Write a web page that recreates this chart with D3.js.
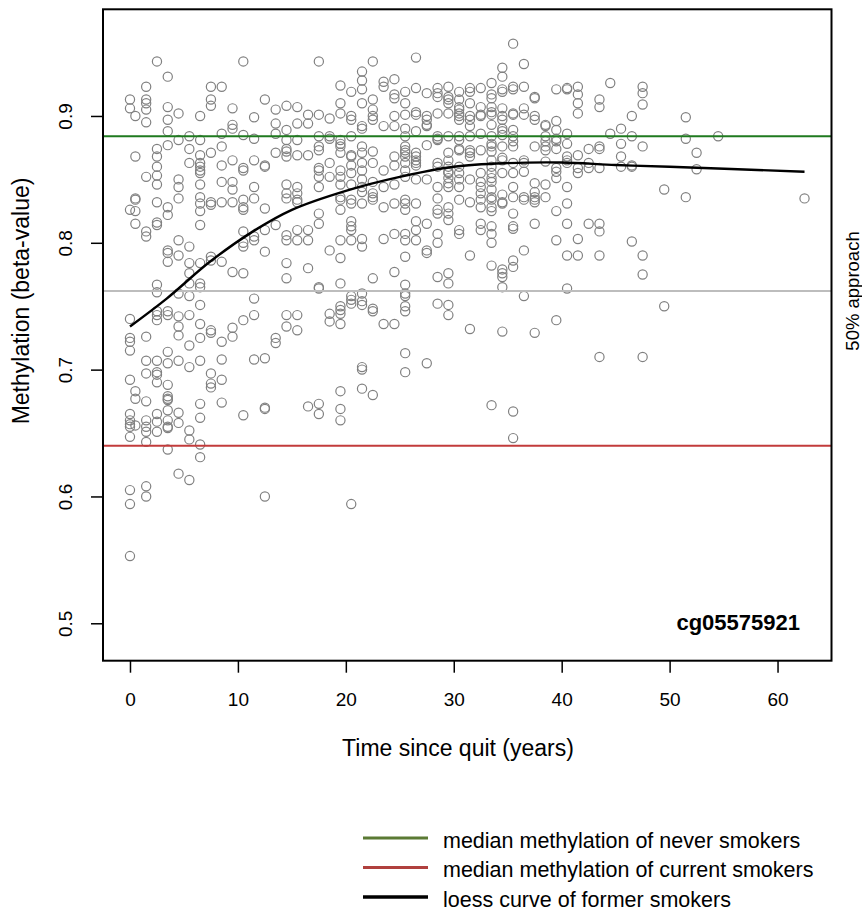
<!DOCTYPE html>
<html>
<head>
<meta charset="utf-8">
<script src="https://cdn.jsdelivr.net/npm/d3@7"></script>
<style>
  body { margin: 0; background: #fff; }
  svg { display: block; font-family: "Liberation Sans", Arial, sans-serif; }
</style>
</head>
<body>
<div id="chart"></div>
<script>
// years since quitting, one entry per column of points
var quitYears = [0, 0.5, 1.5, 2.5, 3.5, 4.5, 5.5, 6.5, 7.5, 8.5, 9.5, 10.5, 11.5, 12.5, 13.5, 14.5,
    15.5, 16.5, 17.5, 18.5, 19.5, 20.5, 21.5, 22.5, 23.5, 24.5, 25.5, 26.5, 27.5, 28.5, 29.5,
    30.5, 31.5, 32.5, 33.5, 34.5, 35.5, 36.5, 37.5, 38.5, 39.5, 40.5, 41.5, 42.5, 43.5, 44.5,
    45.5, 46.5, 47.5, 49.5, 51.5, 52.5, 54.5, 62.5];

// beta-values of former smokers at each of those years
var methylation = [
    [0.913, 0.906, 0.826, 0.740, 0.725, 0.722, 0.715, 0.692, 0.665, 0.660, 0.657, 0.655, 0.647, 0.605, 0.594, 0.553],
    [0.900, 0.868, 0.835, 0.834, 0.825, 0.815, 0.683, 0.677, 0.656],
    [0.923, 0.913, 0.910, 0.905, 0.895, 0.852, 0.809, 0.805, 0.726, 0.707, 0.697, 0.675, 0.660, 0.655, 0.651, 0.643, 0.608, 0.600],
    [0.943, 0.874, 0.868, 0.860, 0.853, 0.846, 0.832, 0.816, 0.814, 0.767, 0.761, 0.746, 0.743, 0.739, 0.707, 0.698, 0.696, 0.690, 0.665, 0.659, 0.651],
    [0.931, 0.907, 0.897, 0.888, 0.877, 0.828, 0.822, 0.794, 0.792, 0.785, 0.746, 0.743, 0.714, 0.705, 0.688, 0.679, 0.677, 0.676, 0.668, 0.660, 0.655, 0.654, 0.637],
    [0.902, 0.881, 0.850, 0.844, 0.835, 0.802, 0.790, 0.760, 0.742, 0.734, 0.727, 0.707, 0.666, 0.658, 0.618],
    [0.884, 0.874, 0.863, 0.797, 0.784, 0.776, 0.768, 0.758, 0.743, 0.719, 0.702, 0.652, 0.645, 0.613],
    [0.900, 0.881, 0.869, 0.863, 0.860, 0.857, 0.855, 0.846, 0.836, 0.831, 0.825, 0.814, 0.784, 0.768, 0.765, 0.751, 0.736, 0.725, 0.707, 0.673, 0.662, 0.641, 0.631],
    [0.923, 0.913, 0.908, 0.871, 0.832, 0.830, 0.789, 0.786, 0.731, 0.729, 0.697, 0.689, 0.686],
    [0.923, 0.886, 0.876, 0.861, 0.848, 0.832, 0.785, 0.722, 0.708, 0.692, 0.674],
    [0.906, 0.893, 0.890, 0.865, 0.848, 0.842, 0.832, 0.777, 0.733, 0.726],
    [0.943, 0.885, 0.859, 0.857, 0.834, 0.828, 0.826, 0.809, 0.800, 0.797, 0.776, 0.739, 0.664],
    [0.899, 0.882, 0.865, 0.844, 0.835, 0.805, 0.802, 0.756, 0.743, 0.708],
    [0.913, 0.861, 0.860, 0.827, 0.810, 0.793, 0.709, 0.670, 0.669, 0.600],
    [0.905, 0.894, 0.886, 0.871, 0.814, 0.725, 0.721],
    [0.908, 0.889, 0.881, 0.874, 0.872, 0.868, 0.846, 0.839, 0.835, 0.806, 0.802, 0.784, 0.772, 0.743, 0.734],
    [0.907, 0.894, 0.881, 0.869, 0.844, 0.839, 0.834, 0.832, 0.810, 0.802, 0.743, 0.731],
    [0.901, 0.894, 0.869, 0.810, 0.802, 0.780, 0.671],
    [0.943, 0.901, 0.884, 0.876, 0.873, 0.859, 0.857, 0.852, 0.844, 0.823, 0.815, 0.765, 0.764, 0.673, 0.665],
    [0.898, 0.884, 0.882, 0.863, 0.852, 0.794, 0.744, 0.738],
    [0.924, 0.910, 0.902, 0.881, 0.878, 0.876, 0.871, 0.857, 0.852, 0.846, 0.836, 0.834, 0.826, 0.802, 0.788, 0.768, 0.750, 0.747, 0.744, 0.736, 0.683, 0.669, 0.660],
    [0.919, 0.900, 0.897, 0.884, 0.869, 0.868, 0.861, 0.855, 0.846, 0.834, 0.831, 0.817, 0.813, 0.810, 0.802, 0.758, 0.755, 0.752, 0.594],
    [0.935, 0.928, 0.921, 0.910, 0.892, 0.890, 0.876, 0.871, 0.863, 0.857, 0.850, 0.844, 0.840, 0.831, 0.803, 0.797, 0.760, 0.754, 0.751, 0.702, 0.700, 0.685],
    [0.943, 0.913, 0.905, 0.900, 0.897, 0.872, 0.863, 0.848, 0.839, 0.836, 0.834, 0.772, 0.748, 0.746, 0.680],
    [0.927, 0.923, 0.892, 0.857, 0.844, 0.828, 0.803, 0.736],
    [0.929, 0.917, 0.914, 0.900, 0.892, 0.868, 0.861, 0.846, 0.831, 0.807, 0.777, 0.736],
    [0.919, 0.910, 0.901, 0.890, 0.884, 0.876, 0.873, 0.871, 0.868, 0.863, 0.857, 0.852, 0.834, 0.831, 0.826, 0.807, 0.802, 0.789, 0.767, 0.760, 0.758, 0.750, 0.746, 0.713, 0.698],
    [0.946, 0.922, 0.903, 0.901, 0.888, 0.871, 0.868, 0.865, 0.863, 0.861, 0.850, 0.831, 0.817, 0.810, 0.802],
    [0.918, 0.900, 0.897, 0.893, 0.892, 0.877, 0.850, 0.815, 0.794, 0.792, 0.705],
    [0.922, 0.918, 0.915, 0.902, 0.884, 0.882, 0.881, 0.863, 0.860, 0.844, 0.835, 0.826, 0.823, 0.807, 0.800, 0.773, 0.752],
    [0.923, 0.915, 0.913, 0.910, 0.902, 0.884, 0.871, 0.865, 0.860, 0.856, 0.855, 0.851, 0.847, 0.844, 0.828, 0.823, 0.818, 0.776, 0.768, 0.751, 0.743],
    [0.919, 0.913, 0.907, 0.905, 0.902, 0.900, 0.897, 0.884, 0.881, 0.874, 0.873, 0.860, 0.855, 0.850, 0.844, 0.834, 0.810, 0.807],
    [0.922, 0.919, 0.910, 0.900, 0.897, 0.892, 0.884, 0.873, 0.871, 0.868, 0.850, 0.832, 0.790, 0.732],
    [0.922, 0.907, 0.901, 0.900, 0.886, 0.873, 0.855, 0.848, 0.844, 0.839, 0.834, 0.828, 0.815, 0.810],
    [0.926, 0.917, 0.914, 0.907, 0.903, 0.901, 0.893, 0.884, 0.878, 0.876, 0.872, 0.865, 0.860, 0.855, 0.851, 0.848, 0.842, 0.836, 0.834, 0.828, 0.825, 0.813, 0.807, 0.800, 0.782, 0.672],
    [0.938, 0.931, 0.921, 0.919, 0.906, 0.900, 0.897, 0.890, 0.888, 0.885, 0.876, 0.867, 0.865, 0.855, 0.838, 0.832, 0.831, 0.779, 0.776, 0.773, 0.765, 0.730],
    [0.957, 0.923, 0.921, 0.902, 0.901, 0.889, 0.884, 0.880, 0.876, 0.863, 0.855, 0.844, 0.836, 0.823, 0.813, 0.811, 0.786, 0.781, 0.667, 0.646],
    [0.941, 0.923, 0.906, 0.901, 0.865, 0.863, 0.856, 0.836, 0.834, 0.794, 0.758],
    [0.915, 0.914, 0.900, 0.897, 0.876, 0.847, 0.840, 0.836, 0.834, 0.832, 0.815, 0.729],
    [0.893, 0.892, 0.884, 0.880, 0.876, 0.873, 0.864, 0.846, 0.836],
    [0.921, 0.896, 0.889, 0.882, 0.880, 0.874, 0.859, 0.856, 0.851, 0.825, 0.802, 0.739],
    [0.922, 0.921, 0.886, 0.878, 0.868, 0.865, 0.863, 0.844, 0.831, 0.815, 0.790, 0.764],
    [0.923, 0.917, 0.910, 0.902, 0.869, 0.859, 0.855, 0.803, 0.790],
    [0.874, 0.863, 0.859, 0.815],
    [0.913, 0.907, 0.876, 0.874, 0.859, 0.815, 0.809, 0.790, 0.710],
    [0.926, 0.886],
    [0.890, 0.878, 0.868, 0.860],
    [0.900, 0.884, 0.861, 0.860, 0.801],
    [0.923, 0.918, 0.909, 0.876, 0.790, 0.775, 0.710],
    [0.842, 0.750],
    [0.899, 0.882, 0.836],
    [0.871, 0.858],
    [0.884],
    [0.835]
];

// loess fit
var loessYears = [0, 3.4, 7.4, 11.4, 15, 20, 25, 30, 35, 40, 45, 50, 62.5];
var loessValues = [0.734, 0.756, 0.785, 0.809, 0.826, 0.841, 0.852, 0.860, 0.8628, 0.8633, 0.8613, 0.860, 0.856];

var neverMedian = 0.884;
var currentMedian = 0.640;
var halfApproach = (neverMedian + currentMedian) / 2;

var xTicks = [0, 10, 20, 30, 40, 50, 60];
var yTicks = [0.5, 0.6, 0.7, 0.8, 0.9];

var legendLabels = ["median methylation of never smokers", "median methylation of current smokers", "loess curve of former smokers"];
var legendColors = ["#5b7a34", "#b0403e", "#000000"];

var width = 862, height = 910;
var plot = { left: 103, right: 831.5, top: 9.3, bottom: 660.7 };

var x = d3.scaleLinear().domain([-2.5, 65]).range([plot.left, plot.right]);
var y = d3.scaleLinear().domain([0.4705, 0.9841]).range([plot.bottom, plot.top]);

var svg = d3.select("#chart").append("svg")
    .attr("width", width)
    .attr("height", height);

svg.append("rect")
    .attr("width", width)
    .attr("height", height)
    .attr("fill", "#fff");

var points = [];
quitYears.forEach(function(yr, i) {
    methylation[i].forEach(function(v) {
        points.push({ year: yr, value: v });
    });
});

svg.selectAll(".dot")
    .data(points)
    .enter()
    .append("circle")
    .attr("class", "dot")
    .attr("cx", function(d) { return x(d.year); })
    .attr("cy", function(d) { return y(d.value); })
    .attr("r", 4.6)
    .attr("fill", "none")
    .attr("stroke", "#808080")
    .attr("stroke-width", 1.2);

// reference lines
var refLines = [
    { value: neverMedian, color: "#1f7a1f" },
    { value: currentMedian, color: "#c23b3b" },
    { value: halfApproach, color: "#bdbdbd" }
];
svg.selectAll(".ref")
    .data(refLines)
    .enter()
    .append("line")
    .attr("class", "ref")
    .attr("x1", plot.left)
    .attr("x2", plot.right)
    .attr("y1", function(d) { return y(d.value); })
    .attr("y2", function(d) { return y(d.value); })
    .attr("stroke", function(d) { return d.color; })
    .attr("stroke-width", 2);

var loess = loessYears.map(function(yr, i) { return [yr, loessValues[i]]; });
svg.append("path")
    .datum(loess)
    .attr("fill", "none")
    .attr("stroke", "#000")
    .attr("stroke-width", 2.4)
    .attr("d", d3.line()
        .curve(d3.curveCatmullRom)
        .x(function(d) { return x(d[0]); })
        .y(function(d) { return y(d[1]); })
    );

// frame
svg.append("rect")
    .attr("x", plot.left)
    .attr("y", plot.top)
    .attr("width", plot.right - plot.left)
    .attr("height", plot.bottom - plot.top)
    .attr("fill", "none")
    .attr("stroke", "#000")
    .attr("stroke-width", 2);

// axes
var xAxis = svg.append("g")
    .attr("transform", "translate(0," + plot.bottom + ")")
    .call(d3.axisBottom(x).tickValues(xTicks).tickSize(12).tickPadding(20).tickSizeOuter(0));
xAxis.select(".domain").remove();
xAxis.selectAll("line").attr("stroke", "#000").attr("stroke-width", 1.5);
xAxis.selectAll("text")
    .attr("fill", "#000")
    .style("font-size", "19px")
    .style("font-family", "Liberation Sans, Arial, sans-serif");

var yAxis = svg.append("g")
    .attr("transform", "translate(" + plot.left + ",0)")
    .call(d3.axisLeft(y).tickValues(yTicks).tickSize(12).tickFormat(d3.format(".1f")).tickSizeOuter(0));
yAxis.select(".domain").remove();
yAxis.selectAll("line").attr("stroke", "#000").attr("stroke-width", 1.5);
yAxis.selectAll("text")
    .attr("fill", "#000")
    .attr("x", null)
    .attr("dy", null)
    .attr("text-anchor", "middle")
    .attr("transform", "translate(-31,0) rotate(-90)")
    .style("font-size", "19px")
    .style("font-family", "Liberation Sans, Arial, sans-serif");

// titles
svg.append("text")
    .attr("transform", "translate(28.5,301) rotate(-90)")
    .attr("text-anchor", "middle")
    .style("font-size", "23px")
    .text("Methylation (beta-value)");

svg.append("text")
    .attr("x", 458)
    .attr("y", 756)
    .attr("text-anchor", "middle")
    .style("font-size", "23px")
    .text("Time since quit (years)");

svg.append("text")
    .attr("x", 800)
    .attr("y", 630)
    .attr("text-anchor", "end")
    .style("font-size", "22px")
    .style("font-weight", "bold")
    .text("cg05575921");

svg.append("text")
    .attr("transform", "translate(859," + y(halfApproach) + ") rotate(-90)")
    .attr("text-anchor", "middle")
    .style("font-size", "18.5px")
    .text("50% approach");

// legend
var legend = svg.selectAll(".legend")
    .data(legendLabels)
    .enter()
    .append("g")
    .attr("class", "legend")
    .attr("transform", function(d, i) { return "translate(363," + (838 + i * 29.5) + ")"; });

legend.append("line")
    .attr("x1", 0)
    .attr("x2", 65)
    .attr("stroke", function(d, i) { return legendColors[i]; })
    .attr("stroke-width", function(d, i) { return i === 2 ? 3.5 : 3; });

legend.append("text")
    .attr("x", 80)
    .attr("y", 9.5)
    .style("font-size", "21.5px")
    .text(function(d) { return d; });
</script>
</body>
</html>
